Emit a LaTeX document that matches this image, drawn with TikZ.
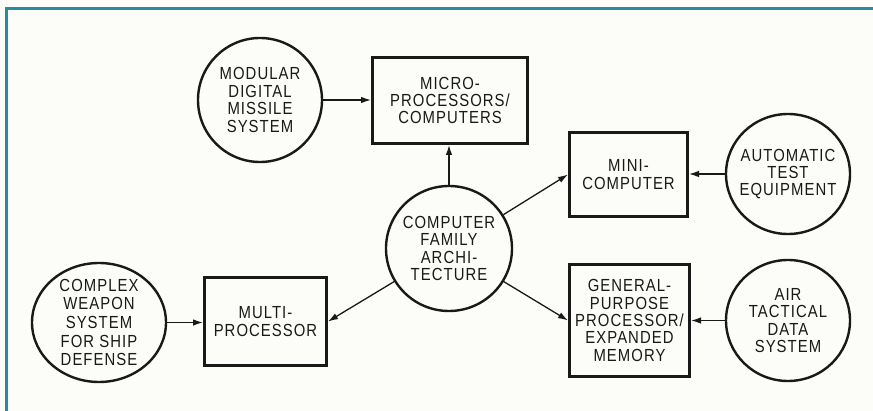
\documentclass[tikz,border=0pt]{standalone}
\usepackage{fontspec}
\setmainfont{Liberation Sans}
\newfontfamily\diagfont[FakeStretch=0.85,LetterSpace=6]{Liberation Sans}
\usetikzlibrary{shapes.geometric,arrows.meta}
\definecolor{frameteal}{RGB}{38,140,158}
\definecolor{paper}{RGB}{252,252,249}
\definecolor{ink}{RGB}{25,25,25}
\begin{document}
\begin{tikzpicture}[x=1pt,y=-1pt,
  lbl/.style={font=\diagfont\fontsize{17.5}{17.4}\selectfont, align=center, text=ink, inner sep=0pt},
  blob/.style={lbl, ellipse, draw=ink, line width=2.4pt, inner sep=-12pt},
  boxnode/.style={lbl, rectangle, draw=ink, line width=3pt},
  arr/.style={draw=ink, line width=1.3pt, -{Latex[length=10pt,width=6.5pt]}}
]
\useasboundingbox[fill=paper] (0,0) rectangle (873,411);
\draw[frameteal, line width=3pt] (6,411) -- (6,9) -- (873,9);

\node[blob, minimum width=124pt, minimum height=124pt] (mod) at (260,100) {MODULAR\\DIGITAL\\MISSILE\\SYSTEM};
\node[boxnode, minimum width=155pt, minimum height=86pt] (micro) at (450,100.5) {MICRO-\\PROCESSORS/\\COMPUTERS};
\node[boxnode, minimum width=118pt, minimum height=84pt] (mini) at (628.5,174.5) {MINI-\\COMPUTER};
\node[blob, minimum width=124pt, minimum height=120pt] (ate) at (788,174) {AUTOMATIC\\TEST\\EQUIPMENT};
\node[blob, minimum width=126pt, minimum height=125pt] (cfa) at (449,248.5) {COMPUTER\\FAMILY\\ARCHI-\\TECTURE};
\node[boxnode, minimum width=120pt, minimum height=112pt] (gp) at (629.5,320.5) {GENERAL-\\PURPOSE\\PROCESSOR/\\EXPANDED\\MEMORY};
\node[blob, minimum width=124pt, minimum height=121pt] (atd) at (788,320.5) {AIR\\TACTICAL\\DATA\\SYSTEM};
\node[blob, minimum width=134pt, minimum height=119pt, font=\diagfont\fontsize{17.5}{18.6}\selectfont] (cws) at (99,322.5) {COMPLEX\\WEAPON\\SYSTEM\\FOR SHIP\\DEFENSE};
\node[boxnode, minimum width=122pt, minimum height=88pt] (multi) at (265.5,321.5) {MULTI-\\PROCESSOR};

\draw[arr] (mod.east) -- (mod.east -| micro.west);
\draw[arr] (cfa.north) -- (cfa.north |- micro.south);
\draw[arr] (cfa) -- (mini.west);
\draw[arr] (cfa) -- (gp.west);
\draw[arr] (cfa) -- (multi.east);
\draw[arr] (ate.west) -- (ate.west -| mini.east);
\draw[arr] (atd.west) -- (atd.west -| gp.east);
\draw[arr] (cws.east) -- (cws.east -| multi.west);
\end{tikzpicture}
\end{document}
